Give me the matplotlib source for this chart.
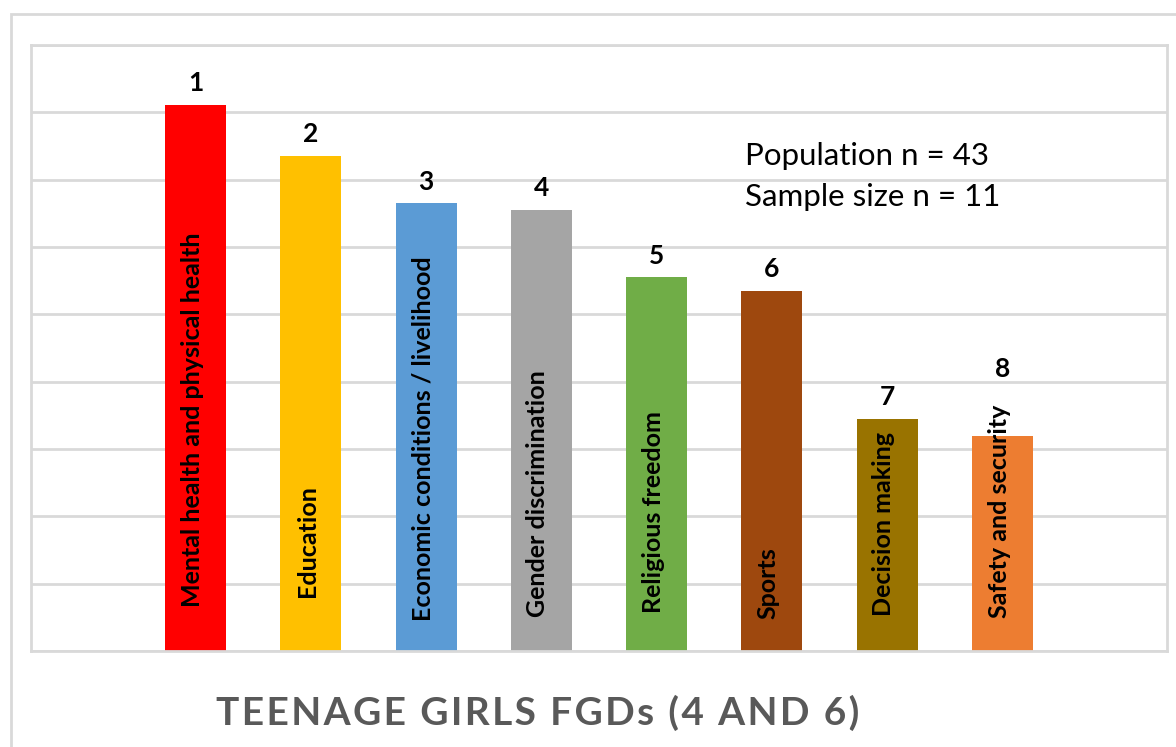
import matplotlib
matplotlib.use("Agg")
import matplotlib.pyplot as plt
from matplotlib.patches import Rectangle

categories = [
    "Mental health and physical health",
    "Education",
    "Economic conditions / livelihood",
    "Gender discrimination",
    "Religious freedom",
    "Sports",
    "Decision making",
    "Safety and security",
]
scores = [8.11, 7.35, 6.65, 6.55, 5.55, 5.35, 3.45, 3.19]
ranks = ["1", "2", "3", "4", "5", "6", "7", "8"]
colors = ["#FF0000", "#FFC000", "#5B9BD5", "#A5A5A5",
          "#70AD47", "#9E480E", "#997300", "#ED7D31"]
notes = ["Population n = 43", "Sample size n = 11"]
title = "TEENAGE GIRLS FGDs (4 AND 6)"

# where the rotated labels start inside each bar (data units above base)
label_pad = [0.65, 0.80, 0.45, 0.50, 0.56, 0.47, 0.52, 0.49]
# gap between bar top and rank number, points (last one clears the long label)
rank_pad = [7, 7, 7, 7, 7, 7, 7, 40]

plt.rcParams["font.family"] = ["Lato", "DejaVu Sans"]
grid_c = "#D9D9D9"

fig = plt.figure(figsize=(11.76, 7.47), dpi=100)
fig.patch.set_facecolor("white")

# outer chart frame (runs off the right/bottom edge like the source)
fig.add_artist(Rectangle((11 / 1176, -0.2), 1.3, 1.2 - 14 / 747,
                         transform=fig.transFigure, fill=False,
                         edgecolor=grid_c, linewidth=2))

ax = fig.add_axes([31 / 1176, 96 / 747, 1136 / 1176, 606 / 747])
x = range(len(categories))
ax.bar(x, scores, width=0.53, color=colors, zorder=2)

ax.set_xlim(-1.427, 7 + 1.427)
ax.set_ylim(0, 9)
ax.set_yticks(range(0, 10))
ax.yaxis.grid(True, color=grid_c, linewidth=2, zorder=0)
ax.tick_params(left=False, bottom=False, labelleft=False, labelbottom=False)
for s in ax.spines.values():
    s.set_color(grid_c)
    s.set_linewidth(2)

for i, (v, r, name) in enumerate(zip(scores, ranks, categories)):
    ax.annotate(r, (i, v), xytext=(0, rank_pad[i]), textcoords="offset points",
                ha="center", va="bottom", fontsize=19, fontweight="bold",
                color="black", zorder=3)
    ax.text(i - 0.03, label_pad[i], name, rotation=90, ha="center", va="bottom",
            fontsize=18, fontweight="bold", color="black", zorder=3)

fig.text(745 / 1176, 1 - 156 / 747, notes[0], ha="left", va="center",
         fontsize=22.5, color="black")
fig.text(745 / 1176, 1 - 197 / 747, notes[1], ha="left", va="center",
         fontsize=22.5, color="black")

# letter-spaced title (hair spaces between characters)
fig.text(538 / 1176, 1 - 713 / 747, "\u200a".join(title), ha="center",
         va="center", fontsize=28, fontweight="bold", color="#595959")

fig.savefig("out.png", dpi=100, facecolor="white")
